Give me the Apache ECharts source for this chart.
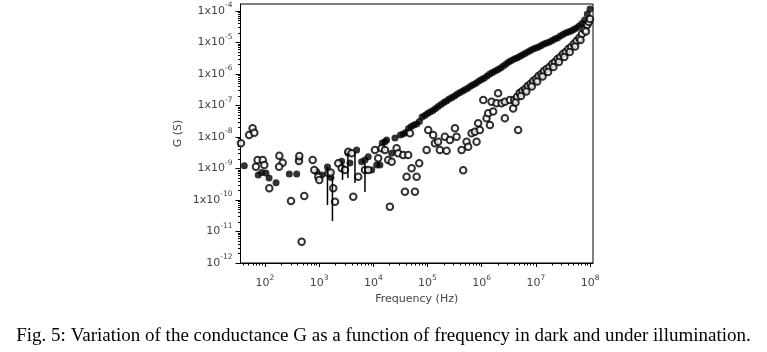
<!DOCTYPE html>
<html>
<head>
<meta charset="utf-8">
<script src="https://cdn.jsdelivr.net/npm/echarts@6/dist/echarts.min.js"></script>
<style>
  html, body { margin: 0; padding: 0; background: #fff; }
  #chart { width: 767px; height: 352px; }
</style>
</head>
<body>
<div id="chart"></div>
<script>
// dark (filled circles)
var darkFreq = [41.5, 75, 87, 104, 119, 160, 281, 385, 424, 900, 1112, 1423, 1650, 2600, 3390, 3700, 4920, 6080, 7000, 8050, 9300,
  11500, 13200, 14600, 16400, 17600, 21800, 25100,
  3.16e4, 3.98e4, 5.01e4, 6.31e4, 7.94e4, 1e5, 1.26e5, 1.58e5, 2.0e5, 2.51e5, 3.16e5, 3.98e5, 5.01e5, 6.31e5, 7.94e5,
  1e6, 1.26e6, 1.58e6, 2.0e6, 2.51e6, 3.16e6, 3.98e6, 5.01e6, 6.31e6, 7.94e6,
  1e7, 1.26e7, 1.58e7, 2.0e7, 2.51e7, 3.16e7, 3.98e7, 5.01e7, 6.31e7, 7.94e7, 8.91e7, 1e8];
var darkG = [1.23e-9, 6.2e-10, 7.4e-10, 7.2e-10, 5.0e-10, 3.5e-10, 6.7e-10, 6.7e-10, 2.0e-9, 7.9e-10, 6.2e-10, 1.12e-9, 5.2e-10, 1.7e-9, 3.1e-9, 1.5e-9, 3.9e-9, 1.64e-9, 1.86e-9, 2.37e-9, 8.9e-10,
  1.29e-9, 1.29e-9, 6.45e-9, 7.1e-9, 8.0e-9, 3.04e-9, 9.3e-9,
  1.16e-8, 1.39e-8, 2.15e-8, 2.59e-8, 4.32e-8, 5.57e-8, 6.93e-8, 9.29e-8, 1.25e-7, 1.61e-7, 2.0e-7, 2.59e-7, 3.22e-7, 4.16e-7, 5.18e-7,
  6.68e-7, 8.64e-7, 1.12e-6, 1.39e-6, 1.80e-6, 2.40e-6, 2.99e-6, 3.6e-6, 4.48e-6, 5.57e-6,
  6.69e-6, 8.03e-6, 9.64e-6, 1.16e-5, 1.39e-5, 1.80e-5, 2.16e-5, 2.59e-5, 3.34e-5, 5.18e-5, 8.0e-5, 1.16e-4];
// extra dark points read between the ones above (the band is continuous)
var darkBandFreq = [3.55e4, 4.47e4, 5.62e4, 7.08e4, 8.91e4, 1.12e5, 1.41e5, 1.78e5, 2.24e5, 2.82e5, 3.55e5, 4.47e5, 5.62e5, 7.08e5, 8.91e5,
  1.12e6, 1.41e6, 1.78e6, 2.24e6, 2.82e6, 3.55e6, 4.47e6, 5.62e6, 7.08e6, 8.91e6,
  1.12e7, 1.41e7, 1.78e7, 2.24e7, 2.82e7, 3.55e7, 4.47e7, 5.62e7, 7.08e7];
var darkBandG = [1.24e-8, 1.86e-8, 2.40e-8, 3.10e-8, 4.82e-8, 6.22e-8, 8.04e-8, 1.08e-7, 1.39e-7, 1.80e-7, 2.32e-7, 2.88e-7, 3.6e-7, 4.65e-7, 6.0e-7,
  7.47e-7, 1.0e-6, 1.25e-6, 1.55e-6, 2.07e-6, 2.69e-6, 3.22e-6, 4.0e-6, 4.99e-6, 6.22e-6,
  7.2e-6, 8.95e-6, 1.04e-5, 1.29e-5, 1.61e-5, 2.0e-5, 2.32e-5, 2.88e-5, 4.0e-5];

// under illumination (open circles)
var lightFreq = [36, 51, 59, 63.5, 68, 73, 91, 97, 120, 184, 212, 182, 302, 424, 430, 475, 531, 759, 813, 962, 1005,
  1473, 1630, 1820, 1960, 2250, 2600, 2990, 3445, 3980, 4260, 5260, 7000, 8050,
  10700, 12300, 14200, 16400, 18800, 20200, 21800, 26900, 28800, 35600, 44000, 47300, 38300, 58600, 41100, 63000, 50900, 70300, 96200,
  103000, 127000, 137000, 157000, 169000, 225000, 209000, 259000, 321000, 344000, 426000, 456000, 526000, 563000, 651000, 750000, 805000, 862000, 926000,
  1.07e6, 1.23e6, 1.32e6, 1.42e6, 1.52e6, 1.63e6, 1.88e6, 2.01e6, 2.33e6, 2.68e6, 2.68e6, 3.31e6, 3.81e6, 4.71e6,
  3.98e6, 4.47e6, 5.01e6, 5.62e6, 6.31e6, 7.08e6, 7.94e6, 8.91e6, 1e7, 1.12e7, 1.26e7, 1.41e7, 1.58e7, 1.78e7, 2.0e7,
  2.24e7, 2.51e7, 2.82e7, 3.16e7, 3.55e7, 3.98e7, 4.47e7, 5.01e7, 5.62e7, 6.31e7, 7.08e7, 7.94e7, 8.91e7, 9.55e7, 1e8,
  4.22e6, 5.31e6, 6.68e6, 8.41e6, 1.06e7, 1.33e7, 1.68e7, 2.11e7, 2.66e7, 3.35e7, 4.22e7, 5.31e7, 6.68e7, 8.41e7];
var lightG = [6.3e-9, 1.16e-8, 1.89e-8, 1.37e-8, 1.14e-9, 1.86e-9, 1.86e-9, 1.29e-9, 2.35e-10, 2.55e-9, 1.53e-9, 1.14e-9, 9.3e-11, 1.73e-9, 2.49e-9, 4.7e-12, 1.34e-10, 1.86e-9, 8.95e-10, 5.5e-10, 4.3e-10,
  7.05e-10, 7.4e-10, 2.35e-10, 8.8e-11, 1.46e-9, 1.01e-9, 8.95e-10, 3.41e-9, 3.04e-9, 1.27e-10, 5.5e-10, 8.95e-10, 8.95e-10,
  3.87e-9, 2.11e-9, 4.38e-9, 3.87e-9, 1.86e-9, 6.1e-11, 1.64e-9, 4.38e-9, 3.04e-9, 2.69e-9, 2.69e-9, 1.31e-8, 1.83e-10, 1.83e-10, 5.5e-10, 5.5e-10, 1.01e-9, 1.46e-9, 3.87e-9,
  1.67e-8, 1.16e-8, 6.3e-9, 7.1e-9, 3.87e-9, 3.67e-9, 1.02e-8, 8.0e-9, 1.89e-8, 1.02e-8, 3.87e-9, 8.8e-10, 7.1e-9, 4.9e-9, 1.31e-8, 1.47e-8, 7.1e-9, 2.72e-8, 1.67e-8,
  1.5e-7, 3.93e-8, 5.65e-8, 2.4e-8, 1.32e-7, 6.4e-8, 1.17e-7, 2.44e-7, 1.17e-7, 1.32e-7, 3.93e-8, 1.5e-7, 8.1e-8, 1.67e-8,
  1.5e-7, 1.86e-7, 2.49e-7, 2.88e-7, 3.34e-7, 4.16e-7, 4.82e-7, 6.0e-7, 6.94e-7, 8.65e-7, 1.0e-6, 1.25e-6, 1.44e-6, 1.67e-6, 2.08e-6,
  2.4e-6, 2.99e-6, 3.47e-6, 4.32e-6, 4.99e-6, 6.22e-6, 7.2e-6, 8.96e-6, 1.12e-5, 1.39e-5, 1.86e-5, 2.49e-5, 3.6e-5, 4.48e-5, 5.57e-5,
  1.24e-7, 2.0e-7, 2.78e-7, 4.01e-7, 5.78e-7, 8.34e-7, 1.16e-6, 1.67e-6, 2.4e-6, 3.47e-6, 4.99e-6, 7.46e-6, 1.2e-5, 2.23e-5];

// vertical drops of the dark curve
var dropFreq = [1423, 1758, 2700, 3390, 4580, 7000];
var dropTop = [1.12e-9, 5.4e-10, 1.6e-9, 3.1e-9, 3.34e-9, 1.5e-9];
var dropBottom = [6.9e-11, 2.15e-11, 4.3e-10, 5.0e-10, 3.47e-10, 1.8e-10];

var xMajor = [1e2, 1e3, 1e4, 1e5, 1e6, 1e7, 1e8];
var yMajor = [1e-12, 1e-11, 1e-10, 1e-9, 1e-8, 1e-7, 1e-6, 1e-5, 1e-4];

var xMin = 35.3, xMax = 1.135e8;
var yMin = 1e-12, yMax = 1.67e-4;

function minorTicks(lo, hi, e0, e1) {
  var out = [];
  for (var e = e0; e <= e1; e++) {
    for (var k = 2; k <= 9; k++) {
      var v = k * Math.pow(10, e);
      if (v > lo && v < hi) out.push(v);
    }
  }
  return out;
}
var xMinor = minorTicks(xMin, xMax, 1, 8);
var yMinor = minorTicks(yMin, yMax, -12, -4);

function zip(a, b) {
  var r = [];
  for (var i = 0; i < a.length; i++) r.push([a[i], b[i]]);
  return r;
}
function expOf(v) { return Math.round(Math.log(v) / Math.LN10); }

var txtColor = '#444';
var axisFont = 'DejaVu Sans';
var supStyle = { e: { fontSize: 7.5, fontFamily: axisFont, color: txtColor, verticalAlign: 'top', lineHeight: 19 } };

var chart = echarts.init(document.getElementById('chart'));

var series = [{
  type: 'scatter',
  data: zip(darkFreq, darkG).concat(zip(darkBandFreq, darkBandG)),
  symbol: 'circle',
  symbolSize: 7,
  itemStyle: { color: '#000' }
}];
for (var i = 0; i < dropFreq.length; i++) {
  series.push({
    type: 'line',
    data: [[dropFreq[i], dropTop[i]], [dropFreq[i], dropBottom[i]]],
    symbol: 'none',
    lineStyle: { color: '#000', width: 1.5 }
  });
}
series.push({
  type: 'scatter',
  data: zip(lightFreq, lightG),
  symbol: 'emptyCircle',
  symbolSize: 6.5,
  itemStyle: { color: '#000', borderWidth: 1.1 }
});

chart.setOption({
  animation: false,
  backgroundColor: '#fff',
  grid: { left: 240.5, right: 174, top: 4, bottom: 89, show: true, borderColor: '#000', borderWidth: 1 },
  xAxis: [{
    type: 'log', logBase: 10, min: xMin, max: xMax, position: 'bottom',
    axisLine: { lineStyle: { color: '#000', width: 1 } },
    axisTick: { customValues: xMajor, length: 4, lineStyle: { color: '#000' } },
    axisLabel: {
      customValues: xMajor, margin: 11,
      formatter: function (v) { return '10{e|' + expOf(v) + '}'; },
      rich: supStyle,
      color: txtColor, fontFamily: axisFont, fontSize: 11
    },
    splitLine: { show: false },
    name: 'Frequency (Hz)', nameLocation: 'middle', nameGap: 29,
    nameTextStyle: { color: txtColor, fontFamily: axisFont, fontSize: 11 }
  }, {
    type: 'log', logBase: 10, min: xMin, max: xMax, position: 'bottom',
    axisLine: { show: false },
    axisTick: { customValues: xMinor, length: 2.5, lineStyle: { color: '#000' } },
    axisLabel: { show: false },
    splitLine: { show: false }
  }],
  yAxis: [{
    type: 'log', logBase: 10, min: yMin, max: yMax, position: 'left',
    axisLine: { lineStyle: { color: '#000', width: 1 } },
    axisTick: { customValues: yMajor, length: 5, lineStyle: { color: '#000' } },
    axisLabel: {
      customValues: yMajor, margin: 8,
      formatter: function (v) {
        var n = expOf(v);
        return (n >= -10 ? '1x10' : '10') + '{e|' + n + '}';
      },
      rich: supStyle,
      color: txtColor, fontFamily: axisFont, fontSize: 11
    },
    splitLine: { show: false },
    name: 'G (S)', nameLocation: 'middle', nameGap: 57, nameRotate: 90,
    nameTextStyle: { color: txtColor, fontFamily: axisFont, fontSize: 11 }
  }, {
    type: 'log', logBase: 10, min: yMin, max: yMax, position: 'left',
    axisLine: { show: false },
    axisTick: { customValues: yMinor, length: 2.5, lineStyle: { color: '#000' } },
    axisLabel: { show: false },
    splitLine: { show: false }
  }],
  graphic: [{
    type: 'text', left: 'center', top: 327,
    style: {
      text: 'Fig. 5: Variation of the conductance G as a function of frequency in dark and under illumination.',
      font: '19px "Liberation Serif"', fill: '#000'
    }
  }],
  series: series
});
</script>
</body>
</html>
